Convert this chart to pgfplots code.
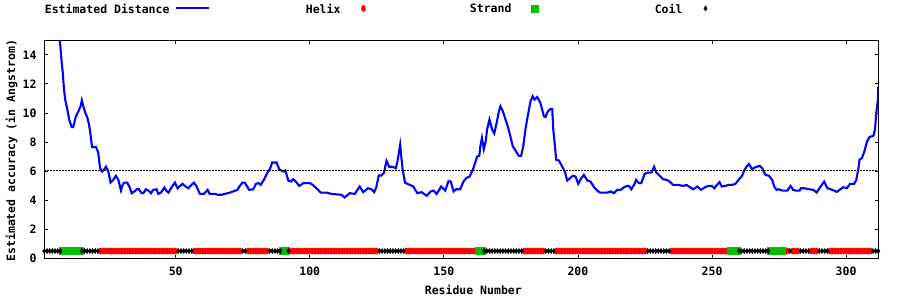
\documentclass[border=0pt]{standalone}
\usepackage{pgfplots}
\pgfplotsset{compat=1.18}
\usepackage{fontspec}
\setmainfont{DejaVu Sans Mono}
\newcommand\myfont{\fontsize{11.5bp}{13bp}\selectfont\bfseries}
\definecolor{lblue}{RGB}{0,0,255}
\definecolor{lred}{RGB}{255,0,0}
\definecolor{lgreen}{RGB}{0,192,0}
\pgfplotsset{
  markleg/.style={legend image code/.code={\path[draw=none,fill=none] (0,0) -- (46bp,0); \draw[mark repeat=2,mark phase=2,##1] plot coordinates {(0bp,0) (23bp,0) (46bp,0)};}},
  lineleg/.style={legend image code/.code={\path[draw=none,fill=none] (0,0) -- (46bp,0); \draw[##1] (7bp,0) -- (40bp,0);}},
}
\begin{document}
\begin{tikzpicture}
\useasboundingbox (0,0) rectangle (900bp,300bp);
\begin{axis}[
  at={(44.3bp,41.7bp)}, anchor=south west,
  scale only axis, width=834bp, height=218bp,
  xmin=1, xmax=312, ymin=0, ymax=15,
  xtick={50,100,150,200,250,300}, ytick={0,2,4,6,8,10,12,14},
  tick align=inside, major tick length=3.5bp,
  axis line style={line width=0.9bp},
  tick style={line width=0.9bp, black},
  /pgf/number format/assume math mode=true,
  tick label style={font=\myfont},
  xticklabel style={anchor=base, inner sep=0pt, yshift=-17.4bp},
  yticklabel style={anchor=east, inner sep=0pt, xshift=-7.6bp},
  xlabel={Residue Number},
  ylabel={Estimated accuracy (in Angstrom)},
  xlabel style={font=\myfont, at={(axis description cs:0.5144,-0.165)}, anchor=base, inner sep=0pt},
  ylabel style={font=\myfont, at={(axis description cs:-0.0351,0.493)}, anchor=base, inner sep=0pt},
  legend columns=4,
  legend plot pos=right,
  legend style={draw=none, fill=none, inner sep=0pt, column sep=0pt, row sep=0pt,
    font=\myfont, nodes={inner sep=0pt, text depth=0pt},
    at={(axis description cs:0,1.1463)}, anchor=west},
]
\addplot[color=lblue, line width=2.1bp, mark=none, lineleg]
coordinates {
(6.8,15.0) (7.5,13.45) (7.9,12.76) (8.3,11.72) (8.8,10.92) (9.6,10.23) (10.3,9.54) (11.2,9.03) (11.8,9.03) (12.7,9.72) (13.7,10.11) (14.6,10.5) (15.0,10.87) (15.5,10.5) (16.3,10.0) (17.0,9.72) (17.7,9.19) (18.3,8.43) (18.8,7.65) (20.3,7.65) (21.1,7.28) (21.8,6.2) (22.6,5.97) (23.4,6.13) (24.0,6.3) (24.9,5.97) (25.7,5.21) (26.7,5.4) (27.7,5.68) (28.6,5.4) (29.6,4.66) (30.2,5.05) (30.8,5.21) (31.9,5.21) (32.7,4.94) (33.6,4.48) (34.6,4.6) (35.5,4.75) (36.3,4.75) (37.3,4.48) (37.9,4.48) (38.9,4.75) (39.8,4.66) (40.8,4.48) (41.6,4.71) (42.9,4.75) (43.5,4.43) (44.5,4.52) (45.8,4.87) (46.4,4.66) (47.3,4.52) (48.5,4.89) (49.7,5.21) (50.7,4.82) (51.6,4.98) (52.5,5.12) (53.4,4.98) (54.7,4.82) (55.5,4.98) (56.8,5.21) (57.8,4.94) (59.0,4.43) (60.5,4.43) (61.9,4.71) (62.7,4.43) (64.6,4.43) (65.8,4.37) (67.1,4.37) (68.3,4.43) (70.2,4.52) (72.0,4.64) (73.0,4.71) (73.9,4.98) (74.9,5.21) (75.8,5.21) (76.6,4.94) (77.4,4.71) (78.9,4.75) (79.9,5.12) (80.9,5.17) (81.7,5.05) (82.9,5.4) (84.1,5.86) (85.1,6.13) (86.0,6.59) (87.6,6.59) (88.6,6.13) (90.1,5.97) (90.9,6.04) (92.0,5.35) (93.0,5.28) (93.8,5.44) (94.8,5.28) (96.1,4.98) (97.6,5.17) (100.1,5.17) (101.1,5.05) (102.9,4.75) (104.1,4.52) (106.3,4.52) (108.1,4.43) (111.8,4.37) (113.0,4.18) (114.2,4.37) (114.9,4.48) (116.8,4.43) (118.6,4.94) (119.9,4.55) (121.7,4.82) (123.0,4.75) (124.0,4.55) (124.8,4.89) (125.7,5.7) (126.7,5.7) (127.7,5.9) (128.6,6.71) (129.6,6.3) (130.8,6.3) (132.1,6.2) (132.7,6.67) (133.7,7.81) (134.6,6.13) (135.5,5.21) (136.4,5.12) (137.4,5.05) (138.6,4.94) (140.1,4.48) (141.7,4.55) (143.6,4.3) (145.1,4.6) (146.1,4.66) (147.3,4.43) (149.0,4.94) (150.5,4.66) (151.7,5.3) (152.6,5.28) (153.6,4.6) (154.6,4.75) (156.1,4.75) (157.3,5.28) (158.3,5.51) (159.6,5.63) (160.8,6.09) (161.7,6.59) (162.4,7.01) (163.2,7.05) (163.6,7.7) (164.2,8.28) (164.9,7.51) (165.6,8.05) (166.1,8.85) (167.0,9.54) (168.0,8.85) (168.8,8.59) (169.8,9.42) (170.5,10.11) (171.1,10.46) (172.0,10.11) (173.0,9.54) (174.0,8.97) (174.8,8.39) (175.7,7.7) (176.7,7.42) (177.9,7.05) (178.8,7.05) (179.6,7.7) (180.4,8.85) (181.3,9.81) (182.3,10.8) (183.1,11.15) (183.8,10.92) (184.8,11.1) (186.0,10.69) (187.3,9.77) (187.9,9.72) (188.8,10.11) (189.8,10.29) (190.4,10.27) (190.8,8.85) (191.3,7.93) (191.9,6.78) (192.9,6.73) (194.1,6.32) (195.1,5.97) (196.0,5.35) (197.0,5.51) (198.1,5.68) (199.1,5.63) (200.1,5.12) (201.0,5.44) (202.2,5.74) (203.5,5.35) (204.7,5.28) (206.0,4.89) (207.2,4.66) (208.2,4.52) (210.9,4.52) (212.2,4.6) (213.4,4.48) (214.7,4.71) (215.9,4.71) (217.2,4.89) (218.3,4.98) (219.0,4.98) (219.9,4.75) (221.1,5.12) (221.7,5.4) (222.7,5.17) (223.6,5.17) (224.9,5.81) (225.9,5.9) (227.4,5.9) (228.4,6.3) (229.2,5.9) (230.5,5.68) (231.7,5.44) (233.0,5.4) (234.2,5.28) (235.5,5.05) (237.4,5.05) (239.3,4.98) (240.5,5.05) (241.8,4.89) (243.0,4.75) (244.5,4.94) (245.9,4.71) (247.4,4.89) (248.6,4.98) (249.9,4.98) (250.9,4.82) (251.8,5.05) (252.8,5.24) (253.6,4.94) (254.9,4.98) (256.2,5.05) (257.4,5.05) (258.7,5.12) (259.9,5.4) (261.2,5.68) (262.1,6.09) (263.1,6.36) (263.8,6.48) (264.9,6.13) (266.2,6.27) (267.8,6.36) (268.7,6.2) (269.9,5.74) (271.2,5.68) (272.4,5.4) (273.3,4.89) (274.1,4.71) (274.9,4.75) (276.2,4.66) (278.1,4.66) (279.3,4.98) (280.2,4.71) (281.2,4.66) (282.7,4.66) (283.1,4.82) (284.3,4.82) (286.2,4.75) (287.8,4.71) (289.0,4.52) (290.3,4.89) (291.8,5.28) (293.0,4.82) (294.3,4.75) (295.5,4.66) (296.5,4.57) (297.6,4.71) (298.9,4.89) (300.2,4.82) (301.5,5.12) (303.0,5.12) (303.8,5.4) (304.5,6.09) (305.0,6.78) (305.9,6.9) (306.8,7.35) (307.8,8.05) (308.7,8.34) (310.2,8.43) (310.8,8.9) (311.2,9.96) (311.8,10.8) (312.0,11.79)
};
\addlegendentry{\makebox[125bp][r]{Estimated Distance}}
\addplot[black, line width=0.9bp, dash pattern=on 1.5bp off 1.5bp, forget plot] coordinates {(1,6.07) (312,6.07)};
% Helix
\addplot[only marks, color=lred, mark=*, mark size=3.2bp, mark options={xscale=0.65, draw=none, fill=lred}, markleg]
coordinates {
(22,0.5) (23,0.5) (24,0.5) (25,0.5) (26,0.5) (27,0.5) (28,0.5) (29,0.5) (30,0.5) (31,0.5) (32,0.5) (33,0.5) (34,0.5) (35,0.5) (36,0.5) (37,0.5) (38,0.5) (39,0.5) (40,0.5) (41,0.5) (42,0.5) (43,0.5) (44,0.5) (45,0.5) (46,0.5) (47,0.5) (48,0.5) (49,0.5) (50,0.5)
(57,0.5) (58,0.5) (59,0.5) (60,0.5) (61,0.5) (62,0.5) (63,0.5) (64,0.5) (65,0.5) (66,0.5) (67,0.5) (68,0.5) (69,0.5) (70,0.5) (71,0.5) (72,0.5) (73,0.5) (74,0.5)
(77,0.5) (78,0.5) (79,0.5) (80,0.5) (81,0.5) (82,0.5) (83,0.5) (84,0.5)
(93,0.5) (94,0.5) (95,0.5) (96,0.5) (97,0.5) (98,0.5) (99,0.5) (100,0.5) (101,0.5) (102,0.5) (103,0.5) (104,0.5) (105,0.5) (106,0.5) (107,0.5) (108,0.5) (109,0.5) (110,0.5) (111,0.5) (112,0.5) (113,0.5) (114,0.5) (115,0.5) (116,0.5) (117,0.5) (118,0.5) (119,0.5) (120,0.5) (121,0.5) (122,0.5) (123,0.5) (124,0.5) (125,0.5)
(136,0.5) (137,0.5) (138,0.5) (139,0.5) (140,0.5) (141,0.5) (142,0.5) (143,0.5) (144,0.5) (145,0.5) (146,0.5) (147,0.5) (148,0.5) (149,0.5) (150,0.5) (151,0.5) (152,0.5) (153,0.5) (154,0.5) (155,0.5) (156,0.5) (157,0.5) (158,0.5) (159,0.5) (160,0.5) (161,0.5) (162,0.5)
(180,0.5) (181,0.5) (182,0.5) (183,0.5) (184,0.5) (185,0.5) (186,0.5) (187,0.5)
(192,0.5) (193,0.5) (194,0.5) (195,0.5) (196,0.5) (197,0.5) (198,0.5) (199,0.5) (200,0.5) (201,0.5) (202,0.5) (203,0.5) (204,0.5) (205,0.5) (206,0.5) (207,0.5) (208,0.5) (209,0.5) (210,0.5) (211,0.5) (212,0.5) (213,0.5) (214,0.5) (215,0.5) (216,0.5) (217,0.5) (218,0.5) (219,0.5) (220,0.5) (221,0.5) (222,0.5) (223,0.5) (224,0.5) (225,0.5)
(235,0.5) (236,0.5) (237,0.5) (238,0.5) (239,0.5) (240,0.5) (241,0.5) (242,0.5) (243,0.5) (244,0.5) (245,0.5) (246,0.5) (247,0.5) (248,0.5) (249,0.5) (250,0.5) (251,0.5) (252,0.5) (253,0.5) (254,0.5) (255,0.5) (256,0.5)
(277,0.5) (278,0.5) (280,0.5) (281,0.5) (282,0.5) (287,0.5) (288,0.5) (289,0.5)
(294,0.5) (295,0.5) (296,0.5) (297,0.5) (298,0.5) (299,0.5) (300,0.5) (301,0.5) (302,0.5) (303,0.5) (304,0.5) (305,0.5) (306,0.5) (307,0.5) (308,0.5) (309,0.5)
};
\addlegendentry{\makebox[125bp][r]{Helix}}
% Strand
\addplot[only marks, color=lgreen, mark=square*, mark size=3.6bp, mark options={draw=none, fill=lgreen}, markleg]
coordinates {
(8,0.5) (9,0.5) (10,0.5) (11,0.5) (12,0.5) (13,0.5) (14,0.5)
(90,0.5) (91,0.5)
(163,0.5) (164,0.5)
(257,0.5) (258,0.5) (259,0.5)
(272,0.5) (273,0.5) (274,0.5) (275,0.5) (276,0.5)
};
\addlegendentry{\makebox[125bp][r]{Strand}}
% Coil
\addplot[only marks, color=black, mark=diamond*, mark size=2.6bp, mark options={xscale=0.85, draw=none, fill=black}, markleg]
coordinates {
(1,0.5) (2,0.5) (3,0.5) (4,0.5) (5,0.5) (6,0.5) (7,0.5)
(15,0.5) (16,0.5) (17,0.5) (18,0.5) (19,0.5) (20,0.5) (21,0.5)
(51,0.5) (52,0.5) (53,0.5) (54,0.5) (55,0.5) (56,0.5)
(75,0.5) (76,0.5)
(85,0.5) (86,0.5) (87,0.5) (88,0.5) (89,0.5)
(92,0.5)
(126,0.5) (127,0.5) (128,0.5) (129,0.5) (130,0.5) (131,0.5) (132,0.5) (133,0.5) (134,0.5) (135,0.5)
(165,0.5) (166,0.5) (167,0.5) (168,0.5) (169,0.5) (170,0.5) (171,0.5) (172,0.5) (173,0.5) (174,0.5) (175,0.5) (176,0.5) (177,0.5) (178,0.5) (179,0.5)
(188,0.5) (189,0.5) (190,0.5) (191,0.5)
(226,0.5) (227,0.5) (228,0.5) (229,0.5) (230,0.5) (231,0.5) (232,0.5) (233,0.5) (234,0.5)
(260,0.5) (261,0.5) (262,0.5) (263,0.5) (264,0.5) (265,0.5) (266,0.5) (267,0.5) (268,0.5) (269,0.5) (270,0.5) (271,0.5)
(279,0.5)
(283,0.5) (284,0.5) (285,0.5) (286,0.5)
(290,0.5) (291,0.5) (292,0.5) (293,0.5)
(310,0.5) (311,0.5) (312,0.5)
};
\addlegendentry{\makebox[125bp][r]{Coil}}
\end{axis}
\end{tikzpicture}
\end{document}
